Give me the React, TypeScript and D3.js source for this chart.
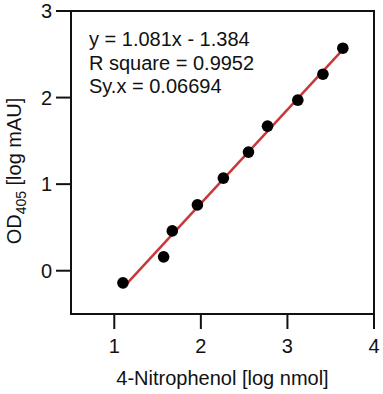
import React from "react";
import * as d3 from "d3";

const xVals = [1.1, 1.57, 1.67, 1.96, 2.26, 2.55, 2.77, 3.12, 3.41, 3.64];
const yVals = [-0.14, 0.16, 0.46, 0.76, 1.07, 1.37, 1.67, 1.97, 2.27, 2.57];
const xTicks = [1, 2, 3, 4];
const yTicks = [0, 1, 2, 3];
const annotations = ["y = 1.081x - 1.384", "R square = 0.9952", "Sy.x = 0.06694"];

const W = 383;
const H = 394;
const margin = { left: 71, top: 11, right: 9, bottom: 80 };
const FONT = "'Liberation Sans', Arial, Helvetica, sans-serif";

export default function App() {
  const x = d3.scaleLinear().domain([0.5, 4]).range([margin.left, W - margin.right]);
  const y = d3.scaleLinear().domain([-0.5, 3]).range([H - margin.bottom, margin.top]);

  // least squares fit
  const mx = d3.mean(xVals)!;
  const my = d3.mean(yVals)!;
  let sxy = 0, sxx = 0;
  xVals.forEach((v, i) => {
    sxy += (v - mx) * (yVals[i] - my);
    sxx += (v - mx) * (v - mx);
  });
  const slope = sxy / sxx;
  const intercept = my - slope * mx;
  const x0 = d3.min(xVals)!;
  const x1 = d3.max(xVals)!;
  const line = d3
    .line<number>()
    .x((d) => x(d))
    .y((d) => y(slope * d + intercept));

  const [xl, xr] = x.range();
  const [yb, yt] = y.range();
  const tickLen = 15;

  return (
    <svg
      width={W}
      height={H}
      style={{ position: "absolute", left: 0, top: 0, background: "#fff" }}
      fontFamily={FONT}
    >
      <rect x={0} y={0} width={W} height={H} fill="#fff" />
      {/* frame */}
      <rect x={xl} y={yt} width={xr - xl} height={yb - yt} fill="none" stroke="#111" strokeWidth={2} />
      {/* y ticks */}
      {yTicks.map((t) => (
        <g key={"y" + t}>
          <line x1={xl - tickLen} x2={xl} y1={y(t)} y2={y(t)} stroke="#111" strokeWidth={2} />
          <text x={xl - 19} y={y(t)} dy="0.36em" textAnchor="end" fontSize={20} fill="#111">
            {t}
          </text>
        </g>
      ))}
      {/* x ticks */}
      {xTicks.map((t) => (
        <g key={"x" + t}>
          <line x1={x(t)} x2={x(t)} y1={yb} y2={yb + tickLen} stroke="#111" strokeWidth={2} />
          <text x={x(t)} y={yb + 39} textAnchor="middle" fontSize={20} fill="#111">
            {t}
          </text>
        </g>
      ))}
      {/* fit line */}
      <path d={line([x0, x1])!} stroke="#c8383a" strokeWidth={2.5} fill="none" />
      {/* points */}
      {xVals.map((v, i) => (
        <circle key={i} cx={x(v)} cy={y(yVals[i])} r={5.8} fill="#000" />
      ))}
      {/* annotations */}
      {annotations.map((a, i) => (
        <text key={a} x={89} y={46 + i * 23.5} fontSize={20} fill="#111">
          {a}
        </text>
      ))}
      {/* axis titles */}
      <text x={(xl + xr) / 2} y={385} textAnchor="middle" fontSize={20} fill="#111">
        4-Nitrophenol [log nmol]
      </text>
      <text
        transform={`translate(21,171) rotate(-90)`}
        textAnchor="middle"
        fontSize={20}
        fill="#111"
      >
        OD
        <tspan fontSize={14} dy={5}>405</tspan>
        <tspan dy={-5}> [log mAU]</tspan>
      </text>
    </svg>
  );
}
